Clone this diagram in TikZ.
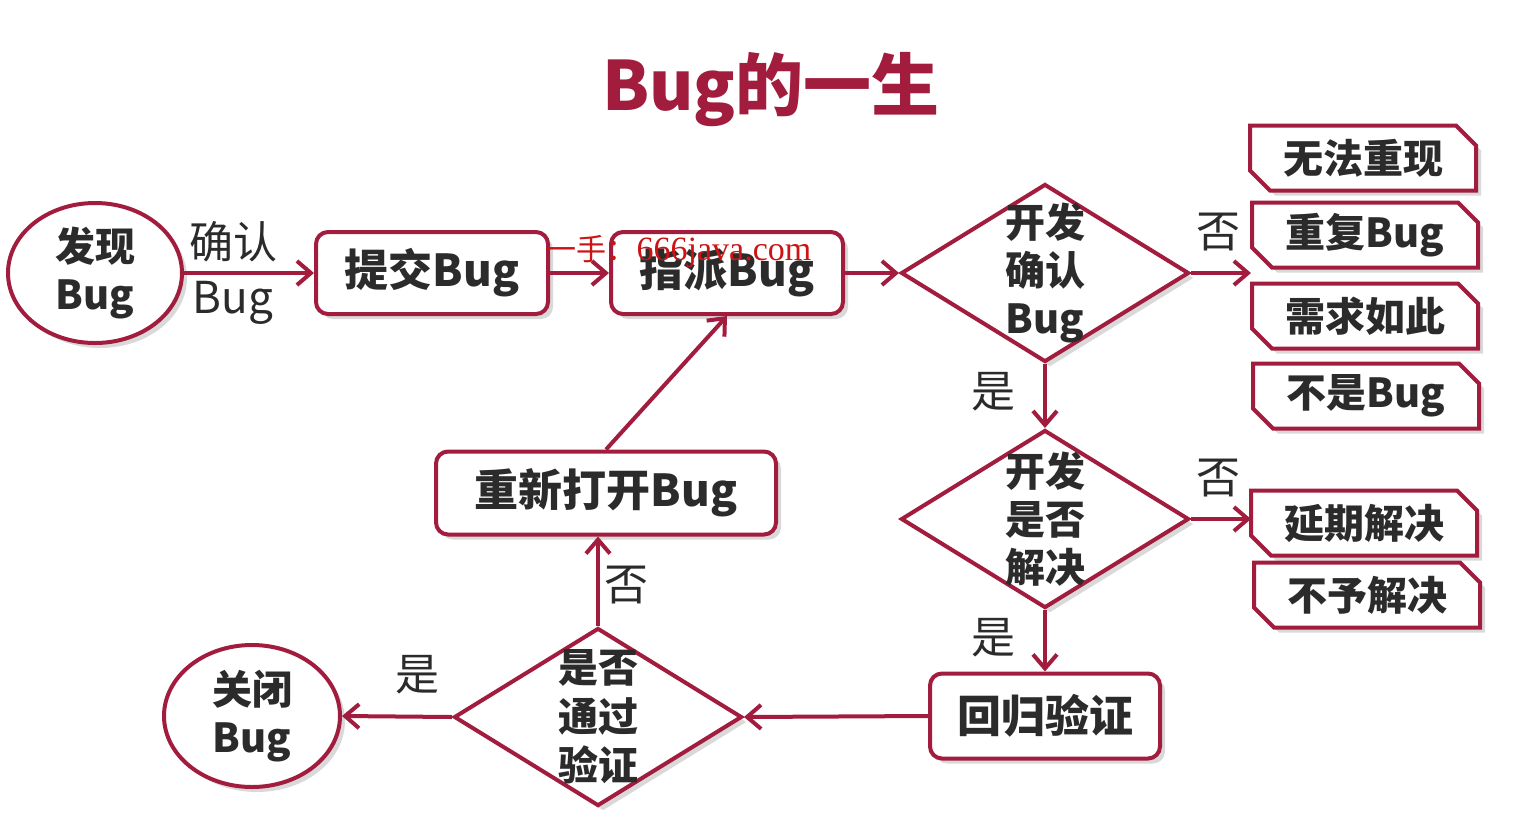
\documentclass[tikz,border=0pt]{standalone}
\usepackage{fontspec}
\setmainfont{Noto Sans CJK SC}
\newfontfamily\wmfont{Liberation Serif}
\usetikzlibrary{arrows.meta,shapes.geometric,shapes.misc,shadows}
\definecolor{crim}{RGB}{162,28,62}
\definecolor{txt}{RGB}{43,43,43}
\definecolor{wm}{RGB}{205,20,20}
\begin{document}
\begin{tikzpicture}[x=0.5pt,y=-0.5pt,
  shd/.style={drop shadow={shadow xshift=2.5pt,shadow yshift=-2.5pt,opacity=0.15,fill=black}},
  bfont/.style={font=\bfseries\fontsize{21}{24}\selectfont},
  rbox/.style={rectangle,draw=crim,line width=2pt,rounded corners=6pt,fill=white,shd,text=txt,inner sep=0pt,font=\bfseries\fontsize{22}{26}\selectfont},
  ell/.style={ellipse,draw=crim,line width=2pt,fill=white,shd,text=txt,inner sep=0pt,align=center,font=\bfseries\fontsize{20}{24}\selectfont},
  dia/.style={diamond,draw=crim,line width=2pt,fill=white,shd,inner sep=0pt,minimum width=144pt,minimum height=89pt},
  dtext/.style={text=txt,align=center,inner sep=0pt,font=\bfseries\fontsize{20}{24}\selectfont},
  cbox/.style={chamfered rectangle,chamfered rectangle corners={north east,south west},chamfered rectangle xsep=5pt,chamfered rectangle ysep=5pt,draw=crim,line width=2pt,fill=white,shd,text=txt,inner sep=0pt,minimum width=113pt,minimum height=32.5pt,font=\bfseries\fontsize{20}{24}\selectfont},
  lbl/.style={text=txt,inner sep=0pt,align=center,font=\fontsize{22}{27.5}\selectfont},
  conn/.style={draw=crim,line width=2pt,-{Straight Barb[length=7pt,width=12pt,line width=2pt]}}
]
\fill[white] (0,0) rectangle (1517,837);
\useasboundingbox (0,0) rectangle (1517,837);

\node[text=crim,font=\bfseries\fontsize{34}{40}\selectfont] (title) at (771,90) {Bug的一生};

\node[ell,minimum width=87pt,minimum height=70pt] (find) at (95,273) {发现\\Bug};
\node[lbl] (confirm) at (233,273) {确认\\Bug};
\node[rbox,minimum width=116pt,minimum height=41pt] (submit) at (432,273) {提交Bug};
\node[rbox,minimum width=116pt,minimum height=41pt] (assign) at (727,273) {指派Bug};

\node[dia] (d1) at (1045,273) {};
\node[dtext] (t1) at (1045,273) {开发\\确认\\Bug};
\node[dia] (d2) at (1045,519) {};
\node[dtext] (t2) at (1045,519) {开发\\是否\\解决};
\node[dia] (d3) at (598,717) {};
\node[dtext,font=\bfseries\fontsize{20}{24.5}\selectfont] (t3) at (598,717) {是否\\通过\\验证};

\node[cbox] (r1) at (1363,158) {无法重现};
\node[cbox] (r2) at (1365,235) {重复Bug};
\node[cbox] (r3) at (1365,316) {需求如此};
\node[cbox] (r4) at (1366,396) {不是Bug};
\node[cbox] (r5) at (1364,523) {延期解决};
\node[cbox] (r6) at (1367,595) {不予解决};

\node[rbox,minimum width=115pt,minimum height=42.5pt] (regress) at (1045,716) {回归验证};
\node[rbox,minimum width=170pt,minimum height=41.5pt] (reopen) at (606,493) {重新打开Bug};
\node[ell,minimum width=88pt,minimum height=71pt] (close) at (252,716) {关闭\\Bug};

\node[lbl] (no1) at (1218,232) {否};
\node[lbl] (yes1) at (993,392) {是};
\node[lbl] (no2) at (1218,478) {否};
\node[lbl] (yes2) at (993,638) {是};
\node[lbl] (yes3) at (417,675) {是};
\node[lbl] (no3) at (626,585) {否};

\coordinate (p1) at (1251,273);
\coordinate (p2) at (1251,519);

\draw[conn] (find.east) -- (submit.west);
\draw[conn] (submit.east) -- (assign.west);
\draw[conn] (assign.east) -- (d1.west);
\draw[conn] (d1.east) -- (p1);
\draw[conn] (d1.south) -- (d2.north);
\draw[conn] (d2.east) -- (p2);
\draw[conn] (d2.south) -- (regress.north);
\draw[conn] (regress.west) -- (d3.east);
\draw[conn] (d3.west) -- (close.east);
\draw[conn] (d3.north) -- (d3.north |- reopen.south);
\draw[conn] (reopen.north) -- (assign.south);

\node[text=wm,inner sep=0pt] (wmark) at (679,252) {\fontsize{15}{18}\selectfont 一手：{\wmfont\fontsize{17}{20}\selectfont 666java.com}};
\end{tikzpicture}
\end{document}
